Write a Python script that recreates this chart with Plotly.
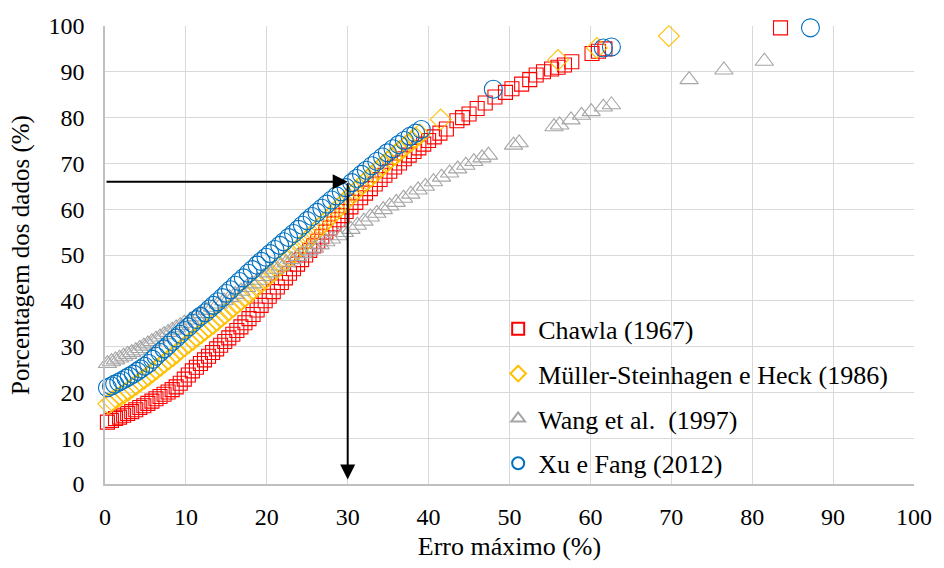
import plotly.graph_objects as go

# Cumulative share of data points (%) whose error is below each maximum error (%)
chawla_x = [0.3, 0.8, 1.3, 1.8, 2.3, 2.8, 3.3, 3.8, 4.3, 4.8, 5.3, 5.8, 6.3, 6.8, 7.3, 7.8,
            8.3, 8.8, 9.3, 9.8, 10.3, 10.8, 11.3, 11.8, 12.3, 12.8, 13.3, 13.8, 14.3, 14.8,
            15.3, 15.8, 16.3, 16.8, 17.3, 17.8, 18.3, 18.8, 19.3, 19.8, 20.3, 20.8, 21.3, 21.8,
            22.3, 22.8, 23.3, 23.8, 24.3, 24.8, 25.3, 25.8, 26.3, 26.8, 27.3, 27.8, 28.3, 28.8,
            29.3, 29.8, 30.4, 31.0, 31.6, 32.2, 32.8, 33.4, 34.0, 34.6, 35.2, 35.8, 36.4, 37.0,
            37.6, 38.2, 38.8, 39.4, 40.0, 40.7, 41.4, 42.2, 43.5, 44.2, 45.0, 46.0, 47.0, 48.2,
            49.5, 50.3, 51.5, 52.5, 53.3, 54.2, 55.2, 56.0, 56.8, 57.7, 60.2, 61.0, 61.8, 83.5]
chawla_y = [13.5, 13.9, 14.3, 14.6, 15.0, 15.4, 15.8, 16.2, 16.7, 17.1, 17.6, 18.1, 18.6, 19.1,
            19.6, 20.1, 20.6, 21.2, 22.0, 22.9, 23.8, 24.7, 25.5, 26.3, 27.1, 27.9, 28.7, 29.5,
            30.3, 31.1, 31.9, 32.7, 33.5, 34.3, 35.2, 36.1, 37.0, 38.0, 39.0, 40.0, 41.0, 42.0,
            43.0, 44.0, 45.0, 46.0, 47.0, 48.0, 49.0, 50.0, 51.0, 52.0, 53.0, 54.0, 55.0, 55.9,
            56.8, 57.7, 58.6, 59.5, 60.5, 61.5, 62.5, 63.5, 64.5, 65.5, 66.5, 67.4, 68.3, 69.2,
            70.1, 71.0, 71.8, 72.6, 73.4, 74.2, 75.0, 75.8, 76.6, 77.5, 79.3, 80.0, 80.8, 82.0,
            83.2, 84.5, 85.5, 86.3, 87.3, 88.3, 89.3, 90.0, 90.6, 91.0, 91.5, 92.2, 94.0, 94.5,
            95.0, 99.6]

muller_x = [0.4, 0.9, 1.4, 1.9, 2.4, 2.9, 3.4, 3.9, 4.4, 4.9, 5.4, 5.9, 6.4, 6.9, 7.4, 7.9,
            8.4, 8.9, 9.4, 9.9, 10.4, 10.9, 11.4, 11.9, 12.4, 12.9, 13.4, 13.9, 14.4, 14.9,
            15.4, 15.9, 16.4, 16.9, 17.4, 17.9, 18.4, 18.9, 19.4, 19.9, 20.4, 20.9, 21.4, 21.9,
            22.4, 22.9, 23.4, 23.9, 24.4, 24.9, 25.4, 25.9, 26.4, 26.9, 27.4, 27.9, 28.4, 28.9,
            29.4, 29.9, 30.4, 30.9, 31.4, 31.9, 32.4, 32.9, 33.4, 33.9, 34.4, 34.9, 35.4, 35.9,
            36.4, 36.9, 37.4, 37.9, 38.4, 38.9, 41.5, 56.0, 60.8, 69.7]
muller_y = [17.5, 18.1, 18.7, 19.2, 19.8, 20.4, 21.1, 21.7, 22.4, 23.0, 23.7, 24.4, 25.1, 25.8,
            26.5, 27.2, 27.9, 28.6, 29.4, 30.1, 30.8, 31.5, 32.2, 32.9, 33.6, 34.3, 35.0, 35.7,
            36.5, 37.2, 38.0, 38.7, 39.5, 40.2, 41.0, 41.7, 42.5, 43.3, 44.1, 44.9, 45.7, 46.5,
            47.3, 48.1, 48.9, 49.7, 50.5, 51.3, 52.2, 53.1, 54.0, 54.9, 55.8, 56.7, 57.6, 58.5,
            59.4, 60.3, 61.2, 62.1, 63.0, 63.8, 64.7, 65.5, 66.4, 67.2, 68.0, 68.8, 69.6, 70.4,
            71.2, 71.9, 72.7, 73.4, 74.2, 74.9, 75.6, 76.3, 79.6, 92.6, 95.2, 97.8]

wang_x = [0.3, 0.8, 1.3, 1.8, 2.3, 2.8, 3.3, 3.8, 4.3, 4.8, 5.3, 5.8, 6.3, 6.8, 7.3, 7.8, 8.3,
          8.8, 9.3, 9.8, 10.5, 11.2, 11.9, 12.6, 13.3, 14.0, 14.7, 15.4, 16.1, 16.8, 17.5, 18.2,
          18.9, 19.6, 20.3, 21.0, 21.7, 22.4, 23.1, 23.8, 24.5, 25.2, 25.9, 26.6, 27.3, 28.0,
          28.8, 29.6, 30.4, 31.2, 32.0, 32.8, 33.6, 34.4, 35.2, 36.0, 36.9, 37.8, 38.7, 39.6,
          40.6, 41.6, 42.6, 43.6, 44.6, 45.6, 46.6, 47.4, 50.5, 51.2, 55.5, 56.2, 57.6, 58.9,
          60.1, 61.6, 62.6, 72.2, 76.5, 81.5]
wang_y = [26.3, 26.7, 27.1, 27.5, 27.9, 28.3, 28.7, 29.1, 29.6, 30.1, 30.6, 31.1, 31.6, 32.1,
          32.6, 33.1, 33.6, 34.1, 34.6, 35.1, 35.8, 36.5, 37.2, 37.9, 38.6, 39.3, 40.0, 40.7,
          41.4, 42.1, 42.9, 43.7, 44.5, 45.3, 46.1, 46.9, 47.6, 48.3, 49.0, 49.7, 50.3, 50.9,
          51.5, 52.2, 52.9, 53.5, 54.2, 54.9, 55.6, 56.5, 57.4, 58.3, 59.1, 59.9, 60.7, 61.5,
          62.4, 63.3, 64.2, 65.0, 66.0, 67.0, 67.9, 68.8, 69.6, 70.4, 71.2, 71.8, 74.0, 74.5,
          78.0, 78.4, 79.5, 80.5, 81.3, 82.3, 82.8, 88.3, 90.4, 92.3]

xu_x = [0.3, 0.8, 1.2, 1.7, 2.1, 2.6, 3.0, 3.5, 4.0, 4.4, 4.9, 5.4, 5.9, 6.3, 6.8, 7.3, 7.8,
        8.3, 8.8, 9.3, 9.8, 10.3, 10.8, 11.3, 11.8, 12.4, 12.9, 13.4, 13.9, 14.5, 15.0, 15.5,
        16.1, 16.6, 17.1, 17.7, 18.2, 18.8, 19.3, 19.9, 20.4, 21.0, 21.6, 22.1, 22.7, 23.3,
        23.9, 24.4, 25.0, 25.6, 26.2, 26.8, 27.4, 28.0, 28.6, 29.2, 29.8, 30.5, 31.1, 31.7,
        32.3, 33.0, 33.6, 34.3, 34.9, 35.6, 36.3, 37.0, 37.7, 38.4, 39.1, 48.0, 61.6, 62.6, 87.2]
xu_y = [21.0, 21.4, 21.8, 22.2, 22.6, 23.1, 23.5, 24.0, 24.6, 25.1, 25.7, 26.3, 27.2, 27.9,
        28.7, 29.5, 30.3, 31.1, 31.9, 32.7, 33.5, 34.3, 35.1, 35.9, 36.6, 37.4, 38.2, 39.0,
        39.8, 40.7, 41.6, 42.4, 43.4, 44.2, 45.0, 46.0, 46.8, 47.8, 48.6, 49.5, 50.3, 51.2,
        52.1, 52.9, 53.8, 54.7, 55.6, 56.5, 57.5, 58.4, 59.3, 60.2, 61.1, 62.0, 62.9, 63.8,
        64.7, 65.8, 66.7, 67.6, 68.5, 69.5, 70.4, 71.4, 72.3, 73.2, 74.1, 75.0, 75.9, 76.6,
        77.4, 86.2, 95.2, 95.4, 99.6]

# Reading guide: 66 % of the data lie within a 30 % maximum error
guide_error = 30
guide_share = 66

tick_vals = list(range(0, 101, 10))

series = [
    ("Chawla (1967)", chawla_x, chawla_y, "square-open", 14, "#FF0000"),
    ("Müller-Steinhagen e Heck (1986)", muller_x, muller_y, "diamond-open", 16, "#FFC000"),
    ("Wang et al.\u00a0 (1997)", wang_x, wang_y, "triangle-up-open", 16, "#A5A5A5"),
    ("Xu e Fang (2012)", xu_x, xu_y, "circle-open", 18, "#0070C0"),
]

FONT = "Liberation Serif"

fig = go.Figure()
for i, (name, xs, ys, symbol, size, color) in enumerate(series):
    fig.add_trace(go.Scatter(
        x=xs, y=ys, name=name, mode="markers", legendgroup=f"g{i}",
        cliponaxis=False,
        marker=dict(symbol=symbol, size=size, color=color, line=dict(color=color, width=1.1)),
    ))

# Horizontal arrow from the y axis to the 30 % error line
fig.add_annotation(x=guide_error, y=guide_share, ax=0, ay=guide_share,
                   xref="x", yref="y", axref="x", ayref="y", text="",
                   showarrow=True, arrowhead=2, arrowsize=1.5, arrowwidth=2,
                   arrowcolor="black", standoff=0, startstandoff=0)
# Vertical arrow down to the x axis
fig.add_annotation(x=guide_error, y=1, ax=guide_error, ay=guide_share,
                   xref="x", yref="y", axref="x", ayref="y", text="",
                   showarrow=True, arrowhead=2, arrowsize=1.5, arrowwidth=2,
                   arrowcolor="black", standoff=0, startstandoff=0)

fig.update_layout(
    width=944, height=568,
    margin=dict(l=105, r=21, t=26, b=82),
    paper_bgcolor="white", plot_bgcolor="white",
    font=dict(family=FONT, size=24, color="black"),
    showlegend=True,
    legend=dict(
        x=0.486, y=0.39, xanchor="left", yanchor="top",
        bgcolor="rgba(0,0,0,0)", borderwidth=0,
        font=dict(family=FONT, size=26, color="black"),
        traceorder="grouped", tracegroupgap=8, itemsizing="constant",
    ),
)
fig.update_xaxes(
    range=[0, 100], tickvals=tick_vals, showgrid=True, gridcolor="#D9D9D9", gridwidth=1.3,
    zeroline=False, showline=True, linecolor="#BFBFBF", linewidth=1.5,
    ticks="", ticklabelstandoff=10, tickfont=dict(family=FONT, size=24, color="black"),
    title=dict(text="Erro máximo (%)", font=dict(family=FONT, size=26, color="black"), standoff=8),
)
fig.update_yaxes(
    range=[0, 100], tickvals=tick_vals, showgrid=True, gridcolor="#D9D9D9", gridwidth=1.3,
    zeroline=False, showline=True, linecolor="#BFBFBF", linewidth=1.5,
    ticks="", ticklabelstandoff=14, tickfont=dict(family=FONT, size=24, color="black"),
    title=dict(text="Porcentagem dos dados (%)", font=dict(family=FONT, size=25, color="black"),
               standoff=12),
)

fig.write_html("out.html")
